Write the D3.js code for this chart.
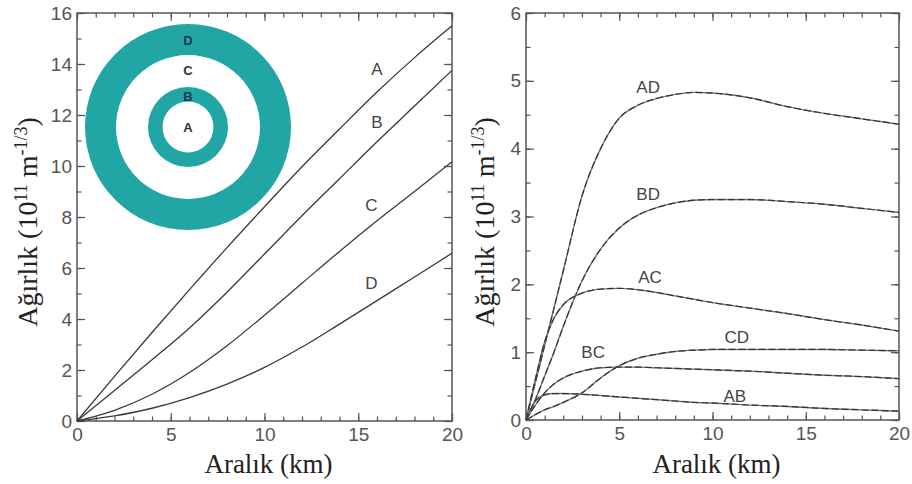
<!DOCTYPE html>
<html>
<head>
<meta charset="utf-8">
<script src="https://cdn.jsdelivr.net/npm/d3@7/dist/d3.min.js"></script>
<style>
  body { margin: 0; background: #fff; }
  svg { display: block; }
</style>
</head>
<body>
<script>
// distances (km)
var distLeft = [0, 2, 4, 6, 8, 10, 12, 14, 16, 18, 20];
var weightA = [0, 1.75, 3.47, 5.15, 6.8, 8.4, 9.97, 11.45, 12.9, 14.25, 15.5];
var weightB = [0, 1.2, 2.4, 3.65, 5.05, 6.55, 8.05, 9.5, 10.95, 12.35, 13.75];
var weightC = [0, 0.42, 1.05, 1.9, 2.95, 4.15, 5.4, 6.65, 7.85, 9.0, 10.17];
var weightD = [0, 0.2, 0.5, 0.92, 1.45, 2.1, 2.9, 3.8, 4.72, 5.65, 6.58];
var leftNames = ["A", "B", "C", "D"];

// distances (km)
var distRight = [0, 0.5, 1, 1.5, 2, 3, 4, 5, 6, 7, 8, 9, 10, 12, 14, 16, 18, 20];
var weightAD = [0, 0.55, 1.1, 1.65, 2.2, 3.3, 4.0, 4.45, 4.64, 4.74, 4.8, 4.83, 4.82, 4.75, 4.62, 4.52, 4.44, 4.36];
var weightBD = [0, 0.3, 0.65, 1.0, 1.38, 2.05, 2.52, 2.83, 3.02, 3.13, 3.2, 3.24, 3.25, 3.25, 3.22, 3.18, 3.12, 3.06];
var weightAC = [0, 0.6, 1.15, 1.5, 1.7, 1.87, 1.93, 1.94, 1.92, 1.88, 1.83, 1.78, 1.73, 1.65, 1.57, 1.48, 1.4, 1.31];
var weightCD = [0, 0.08, 0.15, 0.2, 0.26, 0.4, 0.62, 0.8, 0.91, 0.97, 1.01, 1.03, 1.04, 1.04, 1.04, 1.04, 1.03, 1.02];
var weightBC = [0, 0.22, 0.4, 0.53, 0.62, 0.72, 0.77, 0.78, 0.78, 0.77, 0.76, 0.75, 0.74, 0.72, 0.69, 0.66, 0.64, 0.61];
var weightAB = [0, 0.28, 0.37, 0.39, 0.39, 0.38, 0.36, 0.34, 0.32, 0.3, 0.28, 0.26, 0.25, 0.22, 0.2, 0.17, 0.15, 0.13];
var rightNames = ["AD", "BD", "AC", "CD", "BC", "AB"];

// where the curve names sit, in data units
var leftLabelAt = [[16, 13.8], [16, 11.7], [15.7, 8.45], [15.7, 5.4]];
var rightLabelAt = [[6.55, 4.9], [6.55, 3.32], [6.65, 2.1], [11.3, 1.21], [3.6, 0.99], [11.2, 0.34]];

// tick values
var xMajor = [0, 5, 10, 15, 20];
var xMinor = d3.range(0, 21, 1);
var yMajorLeft = d3.range(0, 17, 2);
var yMinorLeft = d3.range(0, 17, 1);
var yMajorRight = d3.range(0, 7, 1);
var yMinorRight = d3.range(0, 6.01, 0.5);

var W = 912, H = 484;
var axisColor = "#555";
var lineColor = "#3a3a3a";
var teal = "#21a5a5";

var svg = d3.select("body").append("svg").attr("width", W).attr("height", H);

function panel(box, yMax, yMajor, yMinor, labelX) {
  var x = d3.scaleLinear().domain([0, 20]).range([box.left, box.right]);
  var y = d3.scaleLinear().domain([0, yMax]).range([box.bottom, box.top]);
  var g = svg.append("g");

  function addAxis(axis, tx, ty) {
    var a = g.append("g").attr("transform", "translate(" + tx + "," + ty + ")").call(axis);
    a.select(".domain").remove();
    a.selectAll("line").attr("stroke", axisColor).attr("stroke-width", 1.2);
    a.selectAll("text")
      .attr("fill", "#555")
      .style("font-family", "'Liberation Sans', Arial, sans-serif")
      .style("font-size", "19px");
    return a;
  }

  // bottom + left: major ticks with labels, minor ticks plain
  addAxis(d3.axisBottom(x).tickValues(xMajor).tickSize(-8).tickPadding(7).tickFormat(d3.format("d")), 0, box.bottom);
  addAxis(d3.axisBottom(x).tickValues(xMinor).tickSize(-4.5).tickFormat(""), 0, box.bottom);
  addAxis(d3.axisLeft(y).tickValues(yMajor).tickSize(-8).tickPadding(5).tickFormat(d3.format("d")), box.left, 0);
  addAxis(d3.axisLeft(y).tickValues(yMinor).tickSize(-4.5).tickFormat(""), box.left, 0);
  // mirrored ticks on top + right
  addAxis(d3.axisTop(x).tickValues(xMajor).tickSize(-8).tickFormat(""), 0, box.top);
  addAxis(d3.axisTop(x).tickValues(xMinor).tickSize(-4.5).tickFormat(""), 0, box.top);
  addAxis(d3.axisRight(y).tickValues(yMajor).tickSize(-8).tickFormat(""), box.right, 0);
  addAxis(d3.axisRight(y).tickValues(yMinor).tickSize(-4.5).tickFormat(""), box.right, 0);

  g.append("rect")
    .attr("x", box.left).attr("y", box.top)
    .attr("width", box.right - box.left).attr("height", box.bottom - box.top)
    .attr("fill", "none").attr("stroke", axisColor).attr("stroke-width", 1.5);

  // axis titles (serif, like the original)
  g.append("text")
    .attr("x", (box.left + box.right) / 2 + 4).attr("y", 473)
    .attr("text-anchor", "middle")
    .style("font-family", "'Liberation Serif', 'Times New Roman', serif")
    .style("font-size", "27px")
    .attr("fill", "#222")
    .text("Aralık (km)");

  var yt = g.append("text")
    .attr("transform", "translate(" + labelX + "," + 222 + ") rotate(-90)")
    .attr("text-anchor", "middle")
    .style("font-family", "'Liberation Serif', 'Times New Roman', serif")
    .style("font-size", "28px")
    .attr("fill", "#222");
  yt.append("tspan").text("Ağırlık (10");
  yt.append("tspan").attr("dy", -10).style("font-size", "18px").text("11");
  yt.append("tspan").attr("dy", 10).text(" m");
  yt.append("tspan").attr("dy", -10).style("font-size", "18px").text("-1/3");
  yt.append("tspan").attr("dy", 10).text(")");

  return { g: g, x: x, y: y };
}

function curveLabel(p, name, at) {
  p.g.append("text")
    .attr("x", p.x(at[0])).attr("y", p.y(at[1]))
    .attr("text-anchor", "middle").attr("dominant-baseline", "central")
    .style("font-family", "'Liberation Sans', Arial, sans-serif")
    .style("font-size", "17px")
    .attr("fill", "#444")
    .text(name);
}

// ---- left panel ----
var L = panel({ left: 77, right: 452, top: 13, bottom: 421 }, 16, yMajorLeft, yMinorLeft, 37);
var leftSeries = [weightA, weightB, weightC, weightD];
var lineL = d3.line().x(function(d) { return L.x(d[0]); }).y(function(d) { return L.y(d[1]); }).curve(d3.curveMonotoneX);
leftSeries.forEach(function(vals, i) {
  L.g.append("path")
    .datum(distLeft.map(function(d, j) { return [d, vals[j]]; }))
    .attr("d", lineL)
    .attr("fill", "none").attr("stroke", lineColor).attr("stroke-width", 1.3);
  curveLabel(L, leftNames[i], leftLabelAt[i]);
});

// inset: concentric rings A-D
var ring = { cx: 188, cy: 127, r: [25.5, 40, 72, 103] };
var inset = L.g.append("g");
inset.append("circle").attr("cx", ring.cx).attr("cy", ring.cy).attr("r", ring.r[3]).attr("fill", teal);
inset.append("circle").attr("cx", ring.cx).attr("cy", ring.cy).attr("r", ring.r[2]).attr("fill", "#fff");
inset.append("circle").attr("cx", ring.cx).attr("cy", ring.cy).attr("r", ring.r[1]).attr("fill", teal);
inset.append("circle").attr("cx", ring.cx).attr("cy", ring.cy).attr("r", ring.r[0]).attr("fill", "#fff");
var ringText = [["A", ring.cy], ["B", ring.cy - 31], ["C", ring.cy - 57], ["D", ring.cy - 87]];
ringText.forEach(function(t) {
  inset.append("text")
    .attr("x", ring.cx).attr("y", t[1])
    .attr("text-anchor", "middle").attr("dominant-baseline", "central")
    .style("font-family", "'Liberation Sans', Arial, sans-serif")
    .style("font-size", "13px").style("font-weight", "bold")
    .attr("fill", t[0] === "D" || t[0] === "B" ? "#1d3b4a" : "#333")
    .text(t[0]);
});

// ---- right panel ----
var R = panel({ left: 526, right: 899, top: 13, bottom: 420 }, 6, yMajorRight, yMinorRight, 494);
var rightSeries = [weightAD, weightBD, weightAC, weightCD, weightBC, weightAB];
var lineR = d3.line().x(function(d) { return R.x(d[0]); }).y(function(d) { return R.y(d[1]); }).curve(d3.curveMonotoneX);
rightSeries.forEach(function(vals, i) {
  var pts = distRight.map(function(d, j) { return [d, vals[j]]; });
  R.g.append("path").datum(pts).attr("d", lineR)
    .attr("fill", "none").attr("stroke", "#777").attr("stroke-width", 1.4);
  R.g.append("path").datum(pts).attr("d", lineR)
    .attr("fill", "none").attr("stroke", "#333").attr("stroke-width", 1.2)
    .attr("stroke-dasharray", "7,3");
  curveLabel(R, rightNames[i], rightLabelAt[i]);
});
</script>
</body>
</html>
